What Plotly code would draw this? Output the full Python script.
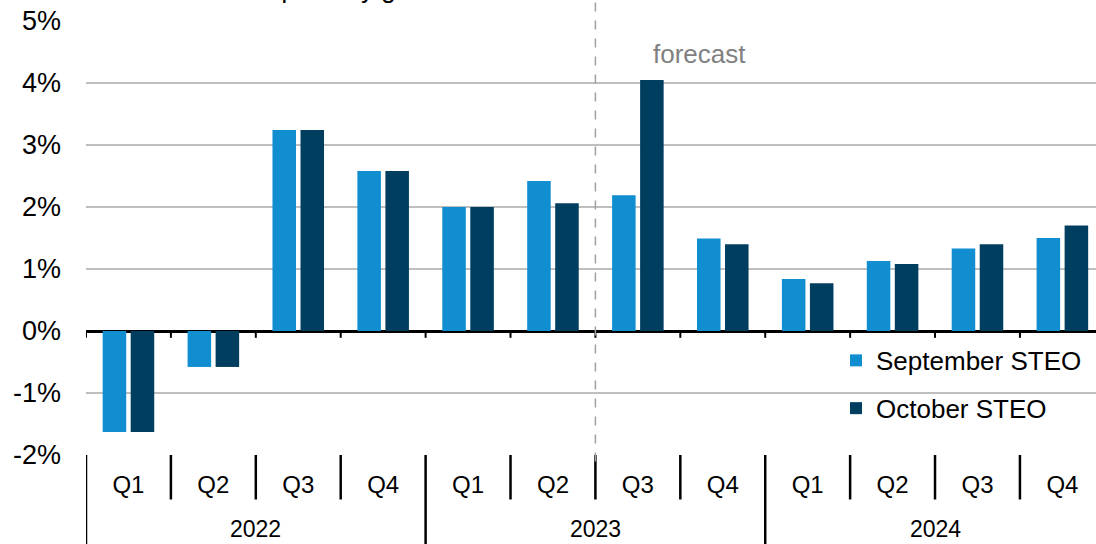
import plotly.graph_objects as go
import numpy as np

quarters = ["Q1", "Q2", "Q3", "Q4"] * 3
years = ["2022", "2023", "2024"]
september = [-1.63, -0.58, 3.24, 2.58, 2.0, 2.42, 2.19, 1.49, 0.84, 1.13, 1.33, 1.5]
october = [-1.63, -0.58, 3.24, 2.58, 2.0, 2.06, 4.05, 1.4, 0.77, 1.08, 1.4, 1.7]
y_ticks = [-2, -1, 0, 1, 2, 3, 4, 5]
y_ticktext = ["-2%", "-1%", "0%", "1%", "2%", "3%", "4%", "5%"]
forecast_start = 6  # index of first forecast quarter (2023 Q3)

FONT = "Liberation Sans, Arial, sans-serif"
x = np.arange(len(quarters))

fig = go.Figure()
fig.add_trace(go.Bar(x=x, y=september, name="September STEO", marker_color="#118ECF",
                     marker_line_width=0, legendgroup="a"))
fig.add_trace(go.Bar(x=x, y=october, name="October STEO", marker_color="#003E5F",
                     marker_line_width=0, legendgroup="b"))

shapes = []
n = len(quarters)
for i in range(n + 1):
    bx = i - 0.5
    if i % 4 == 0:
        shapes.append(dict(type="line", xref="x", yref="paper", x0=bx, x1=bx, y0=0, y1=-0.21,
                           line=dict(color="black", width=2.5)))
    else:
        shapes.append(dict(type="line", xref="x", yref="paper", x0=bx, x1=bx, y0=0, y1=-0.1025,
                           line=dict(color="black", width=2.5)))
    # small tick marks on the zero line
    shapes.append(dict(type="line", xref="x", yref="y", x0=bx, x1=bx, y0=0, y1=-0.11,
                       line=dict(color="black", width=2)))
# forecast divider
fb = forecast_start - 0.5
shapes.append(dict(type="line", xref="x", yref="paper", x0=fb, x1=fb, y0=-0.015, y1=1.06,
                   line=dict(color="#A0A0A0", width=1.5, dash="dash")))

annotations = []
for k, yr in enumerate(years):
    annotations.append(dict(x=4 * k + 1.5, xref="x", y=0, yref="paper", yshift=-73.5,
                            text=yr, showarrow=False, yanchor="middle",
                            font=dict(family=FONT, size=23, color="black")))
annotations.append(dict(x=6.72, xref="x", y=4.46, yref="y", text="forecast", showarrow=False,
                        font=dict(family=FONT, size=26, color="#808080")))
annotations.append(dict(x=0.06, xref="paper", xanchor="left", y=1, yref="paper", yanchor="bottom",
                        yshift=15, text="Real GDP quarterly growth", showarrow=False,
                        font=dict(family=FONT, size=26, color="black")))

fig.update_layout(
    width=1096, height=544,
    margin=dict(l=86, r=0, t=21, b=89),
    paper_bgcolor="white", plot_bgcolor="white",
    barmode="group", bargap=0.34, bargroupgap=0.16,
    font=dict(family=FONT, color="black"),
    shapes=shapes, annotations=annotations,
    legend=dict(x=0.7426, y=0.272, xanchor="left", yanchor="top",
                font=dict(family=FONT, size=26, color="black"),
                traceorder="grouped", tracegroupgap=11, bgcolor="rgba(0,0,0,0)"),
    xaxis=dict(range=[-0.5, 11.396], tickvals=list(x), ticktext=quarters,
               showgrid=False, zeroline=False, showline=False, ticks="",
               tickfont=dict(family=FONT, size=24, color="black"), ticklabelstandoff=13),
    yaxis=dict(range=[-2, 5], tickvals=y_ticks, ticktext=y_ticktext,
               showgrid=True, gridcolor="#BFBFBF", gridwidth=2,
               zeroline=True, zerolinecolor="black", zerolinewidth=2.5,
               showline=False, ticks="",
               tickfont=dict(family=FONT, size=27, color="black"), ticklabelstandoff=24),
)

fig.write_html("out.html")
